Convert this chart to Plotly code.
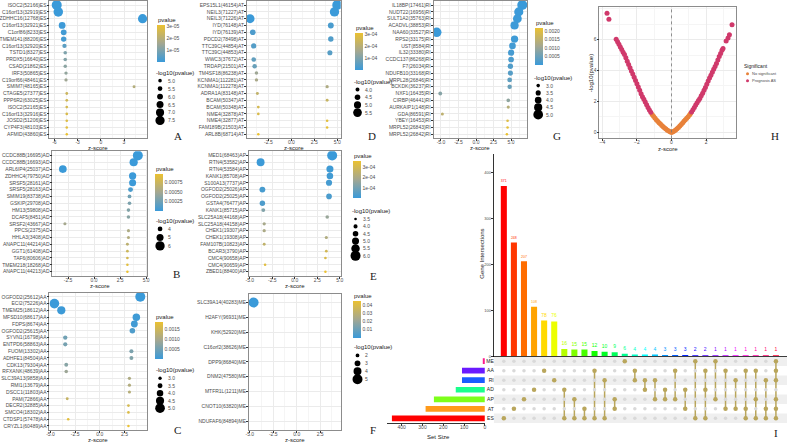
import colorsys
import math
import plotly.graph_objects as go

W, H = 790, 447

# ---------------- data ----------------
# A : ES
a_genes = ['ISOC2(52166)ES', 'C16orf13(32919)ES', 'ZDHHC16(12768)ES', 'C16orf13(32921)ES',
           'C1orf86(8233)ES', 'TMEM141(88206)ES', 'C16orf13(32920)ES', 'TSTD1(8327)ES',
           'PRDX5(16640)ES', 'CSAD(21862)ES', 'IRF3(50865)ES', 'C19orf66(48461)ES',
           'SMIM7(48165)ES', 'CTAGE5(27377)ES', 'PPP6R2(63025)ES', 'ISOC2(52165)ES',
           'C16orf13(32916)ES', 'JOSD2(51206)ES', 'CYP4F3(48103)ES', 'AFMID(43860)ES']
a_z = [-5.7, -5.5, 5.4, -5.0, -4.8, -4.8, -4.7, -4.6, -4.6, -4.6,
       -4.5, -4.5, 4.3, -4.4, -4.4, -4.4, -4.4, -4.4, -4.4, -4.4]
a_p = [1.5e-8, 2.5e-8, 3.5e-8, 4e-7, 1.2e-6, 1.6e-6, 5e-6, 1.0e-5, 1.1e-5, 1.2e-5,
       1.3e-5, 1.5e-5, 1.9e-5, 2.4e-5, 2.5e-5, 2.6e-5, 2.7e-5, 2.8e-5, 2.9e-5, 3.1e-5]
a_xticks = [-6, -3, 0, 3]
a_cb_vals = [1e-5, 2e-5, 3e-5]
a_cb_text = ['1e-05', '2e-05', '3e-05']
a_size_breaks = [5.0, 5.5, 6.0, 6.5, 7.0, 7.5]

# D : AT
d_genes = ['EPS15L1(46154)AT', 'NEIL3(71227)AT', 'NEIL3(71226)AT', 'IYD(76148)AT', 'IYD(76139)AT',
           'PDCD2(78498)AT', 'TTC39C(44854)AT', 'TTC39C(44853)AT', 'WWC3(37672)AT', 'TRDAP(21501)AT',
           'TM4SF18(86238)AT', 'KCNMA1(112281)AT', 'KCNMA1(112278)AT', 'ADRA1A(83148)AT', 'BCAM(50347)AT',
           'BCAM(50348)AT', 'NME4(32878)AT', 'NME4(32877)AT', 'FAM189B(21503)AT', 'ARL8B(68714)AT']
d_z = [5.0, 4.7, -4.5, 4.3, -4.2, 4.3, -4.1, 4.2, -4.1, -4.0,
       -3.8, -3.8, 3.9, -3.7, 3.9, -3.6, -3.6, 3.9, 3.9, -3.6]
d_p = [1.2e-6, 2.0e-6, 2.5e-6, 2.5e-5, 3.0e-5, 3.5e-5, 4e-5, 4.5e-5, 6e-5, 7e-5,
       1.5e-4, 1.7e-4, 1.8e-4, 2.2e-4, 2.3e-4, 2.6e-4, 2.7e-4, 2.9e-4, 3.0e-4, 3.1e-4]
d_xticks = [-2.5, 0.0, 2.5, 5.0]
d_cb_vals = [1e-4, 2e-4, 3e-4]
d_cb_text = ['1e-04', '2e-04', '3e-04']
d_size_breaks = [4.0, 4.5, 5.0, 5.5]

# G : RI
g_genes = ['IL18BP(17461)RI', 'NUDT22(16956)RI', 'SULT1A2(35763)RI', 'ACADVL(38853)RI', 'NAA60(33527)RI',
           'RPS2(33175)RI', 'UST(8584)RI', 'IL32(33380)RI', 'CCDC137(86268)RI', 'F7(26034)RI',
           'NDUFB10(33168)RI', 'MRPL28(26846)RI', 'BCKDK(36237)RI', 'NXF1(16435)RI', 'CIRBP(46441)RI',
           'AURKAIP1(148)RI', 'GDA(86591)RI', 'YBEY(16453)RI', 'MRPL52(26843)RI', 'MRPL52(26842)RI']
g_z = [6.6, 6.1, 5.9, 5.5, -5.6, 5.5, 5.2, 5.0, 5.0, 4.9,
       4.9, 4.8, 4.8, -5.1, 4.6, 4.6, -4.8, 4.5, 4.5, 4.4]
g_p = [8e-6, 1.5e-5, 2e-5, 3e-5, 1.2e-5, 6e-5, 1e-4, 1.3e-4, 2e-4, 2.5e-4,
       3e-4, 4e-4, 5e-4, 8e-4, 9e-4, 1.4e-3, 1.5e-3, 2.0e-3, 2.1e-3, 2.2e-3]
g_xticks = [-5.0, -2.5, 0.0, 2.5, 5.0]
g_cb_vals = [0.0005, 0.0010, 0.0015, 0.0020]
g_cb_text = ['0.0005', '0.0010', '0.0015', '0.0020']
g_size_breaks = [3.0, 3.5, 4.0, 4.5, 5.0]

# B : AD
b_genes = ['CCDC88B(16695)AD', 'CCDC88B(16693)AD', 'ARL6IP4(25037)AD', 'ZDHHC4(79750)AD', 'SRSF5(28161)AD',
           'SRSF5(28163)AD', 'SMIM19(83738)AD', 'GSKIP(29708)AD', 'HM13(59808)AD', 'DCAF5(8451)AD',
           'SRSF2(43667)AD', 'PPCS(2375)AD', 'HHLA3(3408)AD', 'ANAPC11(44214)AD', 'GGT1(61408)AD',
           'TAF6(80606)AD', 'TMEM218(18268)AD', 'ANAPC11(44213)AD']
b_z = [4.2, 3.8, -3.0, 3.7, 3.7, 3.5, 3.4, 3.4, 3.3, 3.3,
       -2.8, 3.3, 3.3, 3.2, 3.2, 3.2, 3.2, 3.2]
b_p = [5e-7, 3e-6, 5e-6, 8e-6, 1e-5, 8e-5, 2.5e-4, 3e-4, 3.3e-4, 3.6e-4,
       5e-4, 5.5e-4, 5.8e-4, 6.5e-4, 7.5e-4, 8e-4, 9e-4, 9.6e-4]
b_xticks = [-2.5, 0.0, 2.5, 5.0]
b_cb_vals = [0.00025, 0.00050, 0.00075]
b_cb_text = ['0.00025', '0.00050', '0.00075']
b_size_breaks = [4, 5, 6]

# E : AP
e_genes = ['MED1(68463)AP', 'RTN4(53582)AP', 'RTN4(53584)AP', 'KANK1(85708)AP', 'S100A13(7737)AP',
           'OGFOD2(25026)AP', 'OGFOD2(25025)AP', 'GSTA4(76477)AP', 'KANK1(85715)AP', 'SLC25A18(44168)AP',
           'SLC25A18(44158)AP', 'CHEK1(19307)AP', 'CHEK1(19308)AP', 'FAM107B(10823)AP', 'BCAR3(3790)AP',
           'CMC4(90658)AP', 'CMC4(90659)AP', 'ZBED1(88400)AP']
e_z = [4.15, -3.8, 3.9, 3.9, 3.8, -3.6, 3.8, -3.6, -3.5, 3.6,
       -3.4, -3.4, 3.5, -3.4, 3.5, 3.4, -3.3, 3.4]
e_p = [1e-6, 5e-6, 1e-5, 1.5e-5, 2e-5, 2.5e-5, 3e-5, 3.5e-5, 1.2e-4, 1.6e-4,
       1.9e-4, 2e-4, 2.1e-4, 2.5e-4, 2.9e-4, 3.1e-4, 3.3e-4, 3.55e-4]
e_xticks = [-5.0, -2.5, 0.0, 2.5, 5.0]
e_cb_vals = [1e-4, 2e-4, 3e-4]
e_cb_text = ['1e-04', '2e-04', '3e-04']
e_size_breaks = [3.5, 4.0, 4.5, 5.0, 5.5, 6.0]

# C : AA
c_genes = ['OGFOD2(25612)AA', 'ECI2(75226)AA', 'TMEM25(18612)AA', 'MFSD10(68617)AA', 'FDPS(8674)AA',
           'OGFOD2(25615)AA', 'SYVN1(16798)AA', 'ENTPD6(58863)AA', 'FUOM(13302)AA', 'ADHFE1(84504)AA',
           'CDK13(79304)AA', 'RFXANK(48639)AA', 'SLC39A13(9858)AA', 'RMI1(13679)AA', 'DSCC1(11803)AA',
           'PAM(72866)AA', 'DECR2(32885)AA', 'SMCO4(18302)AA', 'CTDSP1(57478)AA', 'CRYZL1(60489)AA']
c_z = [4.1, -4.6, -3.9, 3.7, 3.5, 3.3, -3.5, -3.5, 3.2, 3.2,
       -3.4, -3.4, 3.0, 3.0, 3.0, -3.3, 2.9, 2.9, -3.2, 2.9]
c_p = [8e-6, 1e-5, 3e-5, 5e-5, 8e-5, 2e-4, 5e-4, 5.5e-4, 6e-4, 6.5e-4,
       7e-4, 9e-4, 1.1e-3, 1.15e-3, 1.2e-3, 1.4e-3, 1.6e-3, 1.7e-3, 1.8e-3, 1.9e-3]
c_xticks = [-5.0, -2.5, 0.0, 2.5]
c_cb_vals = [0.0005, 0.0010, 0.0015]
c_cb_text = ['0.0005', '0.0010', '0.0015']
c_size_breaks = [3.0, 3.5, 4.0, 4.5, 5.0]

# F : ME
f_genes = ['SLC39A14(40283)ME', 'H2AFY(96931)ME', 'KHK(52920)ME', 'C16orf2(38626)ME', 'DPP9(86840)ME',
           'DNM2(47580)ME', 'MTFR1L(1211)ME', 'CNOT10(63820)ME', 'NDUFAF6(84894)ME']
f_z = [-4.6, None, None, None, None, None, None, None, None]
f_p = [1e-5, 0.004, 0.008, 0.012, 0.02, 0.025, 0.03, 0.04, 0.045]
f_xticks = [-5.0, -2.5, 0.0, 2.5]
f_cb_vals = [0.01, 0.02, 0.03, 0.04]
f_cb_text = ['0.01', '0.02', '0.03', '0.04']
f_size_breaks = [2, 3, 4, 5]

# H : volcano
vol_ns_z = [-1.12, -1.04, -0.96, -0.88, -0.80, -0.72, -0.64, -0.56, -0.48, -0.40, -0.32, -0.24, -0.16, -0.08,
            0.0, 0.08, 0.16, 0.24, 0.32, 0.40, 0.48, 0.56, 0.64, 0.72, 0.80, 0.88, 0.96, 1.04, 1.10]
vol_ns_y = [1.16, 1.04, 0.93, 0.83, 0.73, 0.63, 0.54, 0.45, 0.37, 0.29, 0.22, 0.15, 0.09, 0.04,
            0.0, 0.04, 0.09, 0.16, 0.24, 0.33, 0.42, 0.52, 0.62, 0.72, 0.82, 0.92, 1.02, 1.13, 1.22]
vol_sig_z = [-3.73, -3.62, -3.20, -3.12, -3.04, -2.96, -2.88, -2.80, -2.72, -2.64, -2.56, -2.48, -2.40,
             -2.32, -2.24, -2.16, -2.08, -2.00, -1.92, -1.84, -1.76, -1.68, -1.60, -1.52, -1.44, -1.36,
             -1.28, -1.20,
             1.16, 1.24, 1.32, 1.40, 1.48, 1.56, 1.64, 1.72, 1.80, 1.88, 1.96, 2.04, 2.12, 2.20, 2.28,
             2.36, 2.44, 2.52, 2.60, 2.68, 2.76, 2.84, 2.92, 2.98, 3.16, 3.27, 3.35, 3.50]
vol_sig_y = [7.70, 7.30, 6.02, 5.86, 5.69, 5.52, 5.35, 5.18, 5.03, 4.82, 4.60, 4.38, 4.17,
             3.97, 3.77, 3.57, 3.36, 3.14, 2.93, 2.72, 2.50, 2.31, 2.14, 1.97, 1.79, 1.62,
             1.45, 1.30,
             1.32, 1.47, 1.62, 1.77, 1.92, 2.06, 2.20, 2.37, 2.54, 2.72, 2.91, 3.12, 3.33, 3.52, 3.70,
             3.89, 4.08, 4.26, 4.45, 4.68, 4.90, 5.10, 5.30, 5.42, 5.90, 6.10, 6.30, 6.96]
vol_xticks = [-4, -2, 0, 2]
vol_yticks = [0, 2, 4, 6]

# I : upset
set_names = ['ME', 'AA', 'RI', 'AD', 'AP', 'AT', 'ES']
set_sizes = [10, 110, 110, 140, 245, 285, 447]
inter_sizes = [371, 248, 207, 108, 78, 76, 16, 15, 15, 12, 10, 9, 6, 4,
               4, 4, 3, 3, 3, 2, 2, 1, 1, 1, 1, 1, 1, 1]
inter_sets = [['ES'], ['AT'], ['AP'], ['AD'], ['AA'], ['RI'], ['AD', 'ES'], ['AP', 'ES'],
              ['AT', 'ES'], ['AA', 'ES'], ['RI', 'ES'], ['AP', 'AT'], ['ME'], ['AA', 'RI'],
              ['RI', 'AD'], ['RI', 'AP'], ['AD', 'AP'], ['AA', 'AP'], ['AD', 'AT'], ['ME', 'ES'],
              ['AA', 'AD', 'ES'], ['ME', 'AP'], ['AA', 'AT'], ['RI', 'AT'], ['AA', 'AT', 'ES'],
              ['AA', 'AP', 'ES'], ['RI', 'AT', 'ES'], ['ME', 'AA', 'RI', 'AP', 'AT', 'ES']]
set_ticks = [0, 100, 200, 300, 400]

# ---------------- styling helpers ----------------
FONT = 'Liberation Sans'
SERIF = 'Liberation Serif'
GRID = '#ebebeb'
MINOR = '#f5f5f5'
BORDER = '#8c8c8c'
TXT = '#4d4d4d'
SCALE = [[0, '#3a9ad9'], [0.5, '#a3a792'], [1, '#ebc131']]

fig = go.Figure()
ann, shapes, layout = [], [], {}


def aid(k):
    return '' if k == 1 else str(k)


def dx(x0, x1):
    return [x0 / W, x1 / W]


def dy(y0, y1):
    return [1 - y1 / H, 1 - y0 / H]


def txt(x, y, s, size=5, color=TXT, xanchor='left', family=FONT, angle=0):
    ann.append(dict(x=x / W, y=1 - y / H, xref='paper', yref='paper', text=s, showarrow=False,
                    xanchor=xanchor, yanchor='middle', textangle=angle, borderpad=0,
                    font=dict(size=size, color=color, family=family)))


def dot(cx, cy, r, color):
    shapes.append(dict(type='circle', xref='paper', yref='paper', xsizemode='pixel', ysizemode='pixel',
                       xanchor=cx / W, yanchor=1 - cy / H, x0=-r, x1=r, y0=-r, y1=r,
                       fillcolor=color, line=dict(width=0)))


def axis_style(**kw):
    base = dict(showgrid=True, gridcolor=GRID, gridwidth=0.8, zeroline=False, showline=True, mirror=True,
                linecolor=BORDER, linewidth=0.8, ticks='outside', ticklen=2, tickcolor='#333333',
                tickwidth=0.6, tickfont=dict(size=5, color=TXT, family=FONT))
    base.update(kw)
    return base


def dot_panel(k, genes, z, p, box, xr, xticks, fmt, minor, cb, cbv, cbt, lg, breaks, step, letter):
    x0, x1, y0, y1 = box
    n = len(genes)
    lp = [-math.log10(v) for v in p]
    lo, hi = min(lp), max(lp)
    size = [2.5 + 7.5 * (v - lo) / (hi - lo) for v in lp]
    fig.add_trace(go.Scatter(
        x=z, y=list(range(n)), mode='markers', xaxis='x' + aid(k), yaxis='y' + aid(k),
        marker=dict(size=size, color=p, colorscale=SCALE, cmin=min(p), cmax=max(p), line=dict(width=0),
                    opacity=1, showscale=True,
                    colorbar=dict(x=cb[0] / W, xanchor='left', y=1 - cb[1] / H, yanchor='top',
                                  len=37, lenmode='pixels', thickness=8, thicknessmode='pixels',
                                  tickvals=cbv, ticktext=cbt, ticks='', outlinewidth=0,
                                  xpad=0, ypad=0, tickfont=dict(size=5, color=TXT, family=FONT)))))
    layout['xaxis' + aid(k)] = axis_style(
        domain=dx(x0, x1), range=xr, anchor='y' + aid(k), tickvals=xticks,
        ticktext=[fmt.format(v) for v in xticks], ticklabelstandoff=-3,
        minor=dict(dtick=minor, tick0=0, showgrid=True, gridcolor=MINOR, gridwidth=0.5))
    layout['yaxis' + aid(k)] = axis_style(
        domain=dy(y0, y1), range=[n - 0.4, -0.6], anchor='x' + aid(k), tickvals=list(range(n)),
        ticktext=genes, ticklabelstandoff=-1)
    txt((x0 + x1) / 2, y1 + 10, 'z-score', size=6, color='#1a1a1a', xanchor='center')
    txt(cb[0], cb[1] - 5, 'pvalue', size=6, color='#1a1a1a')
    txt(lg[0], lg[1], '-log10(pvalue)', size=6, color='#1a1a1a')
    for i, b in enumerate(breaks):
        cy = lg[1] + 8 + i * step
        d = 2.5 + 7.5 * (b - lo) / (hi - lo)
        dot(lg[0] + 5, cy, max(d, 1.5) / 2, 'black')
        txt(lg[0] + 12, cy, str(b), size=5)
    txt(letter[1], letter[2], letter[0], size=11, color='#1a1a1a', xanchor='center', family=SERIF)


dot_panel(1, a_genes, a_z, a_p, (43, 142, 1, 139), [-6.64, 6.0], a_xticks, '{:g}', 1.5,
          (152, 25), a_cb_vals, a_cb_text, (150, 73), a_size_breaks, 8, ('A', 173, 137))
dot_panel(2, d_genes, d_z, d_p, (243, 338, 1, 139), [-4.84, 5.38], d_xticks, '{:.1f}', 1.25,
          (352, 33), d_cb_vals, d_cb_text, (350, 82), d_size_breaks, 7.7, ('D', 370, 137))
dot_panel(3, g_genes, g_z, g_p, (432, 527, 1, 139), [-6.06, 7.32], g_xticks, '{:.1f}', 1.25,
          (535, 28), g_cb_vals, g_cb_text, (533, 78), g_size_breaks, 7.3, ('G', 557, 137))
dot_panel(5, b_genes, b_z, b_p, (46, 142, 152, 277), [-4.0, 5.1], b_xticks, '{:.1f}', 1.25,
          (150, 175), b_cb_vals, b_cb_text, (150, 222), b_size_breaks, 8.5, ('B', 172, 275))
dot_panel(6, e_genes, e_z, e_p, (245, 338, 152, 277), [-5.1, 5.1], e_xticks, '{:.1f}', 1.25,
          (350, 162), e_cb_vals, e_cb_text, (348, 212), e_size_breaks, 7.4, ('E', 371, 277))
dot_panel(7, c_genes, c_z, c_p, (43, 142, 294, 432), [-5.1, 4.8], c_xticks, '{:.1f}', 1.25,
          (150, 323), c_cb_vals, c_cb_text, (150, 372), c_size_breaks, 7.5, ('C', 173, 432))
dot_panel(8, f_genes, f_z, f_p, (245, 338, 295, 432), [-5.1, 4.7], f_xticks, '{:.1f}', 1.25,
          (350, 302), f_cb_vals, f_cb_text, (350, 349), f_size_breaks, 8, ('F', 371, 432))

# ---------------- H volcano ----------------
fig.add_trace(go.Scatter(x=vol_ns_z, y=vol_ns_y, mode='markers', xaxis='x4', yaxis='y4',
                         marker=dict(size=5, color='#e8823a', line=dict(width=0))))
fig.add_trace(go.Scatter(x=vol_sig_z, y=vol_sig_y, mode='markers', xaxis='x4', yaxis='y4',
                         marker=dict(size=5, color='#d0396b', line=dict(width=0))))
layout['xaxis4'] = axis_style(domain=dx(600, 738), range=[-4.17, 3.71], anchor='y4', tickvals=vol_xticks,
                              ticklabelstandoff=-3,
                              minor=dict(dtick=1, tick0=0, showgrid=True, gridcolor=MINOR, gridwidth=0.5))
layout['yaxis4'] = axis_style(domain=dy(7, 139), range=[-0.38, 8.1], anchor='x4', tickvals=vol_yticks,
                              ticklabelstandoff=-1,
                              minor=dict(dtick=1, tick0=0, showgrid=True, gridcolor=MINOR, gridwidth=0.5))
shapes.append(dict(type='line', xref='x4', yref='y4', x0=0, x1=0, y0=-0.38, y1=8.1,
                   line=dict(color='#777777', width=0.8, dash='dot')))
txt(669, 150, 'z-score', size=6, color='#1a1a1a', xanchor='center')
txt(591, 74, '-log10(pvalue)', size=6, color='#1a1a1a', xanchor='center', angle=-90)
txt(745, 66, 'Significant', size=5, color='#1a1a1a')
dot(750, 74, 1.5, '#e8823a')
txt(754, 74, 'No significant', size=4)
dot(750, 81, 1.5, '#d0396b')
txt(754, 81, 'Prognosis AS', size=4)
txt(778, 137, 'H', size=11, color='#1a1a1a', xanchor='center', family=SERIF)

# ---------------- I upset ----------------
n_int = len(inter_sizes)
bar_colors = []
for i in range(n_int):
    r, g, b = colorsys.hsv_to_rgb(i / n_int, 1, 1)
    bar_colors.append('#%02x%02x%02x' % (int(r * 255), int(g * 255), int(b * 255)))
set_colors = ['#ff1a8c', '#6a1aff', '#1a5cff', '#1aff8c', '#7dff1a', '#ff9a1a', '#ff0000']

fig.add_trace(go.Bar(x=list(range(n_int)), y=inter_sizes, xaxis='x9', yaxis='y9', width=0.6,
                     marker=dict(color=bar_colors, line=dict(width=0)),
                     text=[str(v) for v in inter_sizes], textposition='outside', cliponaxis=False,
                     textfont=dict(size=5, color=bar_colors, family=FONT)))
layout['xaxis9'] = dict(domain=dx(493, 790), range=[-1.0, 28.1], anchor='y9', showticklabels=False,
                        showgrid=False, zeroline=False, showline=True, linecolor='black', linewidth=1.2,
                        ticks='')
layout['yaxis9'] = dict(domain=dy(155, 358), range=[0, 440], anchor='x9', tickvals=set_ticks,
                        showgrid=False, zeroline=False, showline=True, linecolor='#333333', linewidth=0.8,
                        ticks='outside', ticklen=2, tickcolor='#333333', tickwidth=0.6, ticklabelstandoff=-1,
                        tickfont=dict(size=4, color=TXT, family=FONT))
txt(481, 255, 'Gene Intersections', size=6, color='#1a1a1a', xanchor='center', angle=-90)

# matrix
for r in range(0, len(set_names), 2):
    shapes.append(dict(type='rect', xref='x10', yref='y10', x0=-1.0, x1=28.1, y0=r - 0.5, y1=r + 0.5,
                       fillcolor='#efefef', line=dict(width=0), layer='below'))
gx, gy, ax_, ay_ = [], [], [], []
for i, members in enumerate(inter_sets):
    rows = [set_names.index(s) for s in members]
    for r in range(len(set_names)):
        if r in rows:
            ax_.append(i)
            ay_.append(r)
        else:
            gx.append(i)
            gy.append(r)
    if len(rows) > 1:
        fig.add_trace(go.Scatter(x=[i, i], y=[min(rows), max(rows)], mode='lines', xaxis='x10', yaxis='y10',
                                 line=dict(color='#b9a65c', width=1.5)))
fig.add_trace(go.Scatter(x=gx, y=gy, mode='markers', xaxis='x10', yaxis='y10',
                         marker=dict(size=3.5, color='#d9d9d9', line=dict(width=0))))
fig.add_trace(go.Scatter(x=ax_, y=ay_, mode='markers', xaxis='x10', yaxis='y10',
                         marker=dict(size=4.5, color='#b9a65c', line=dict(width=0))))
layout['xaxis10'] = dict(domain=dx(493, 790), range=[-1.0, 28.1], anchor='y10', visible=False)
layout['yaxis10'] = dict(domain=dy(358, 425), range=[6.5, -0.5], anchor='x10', tickvals=list(range(7)),
                         ticktext=set_names, showgrid=False, zeroline=False, showline=False, ticks='',
                         ticklabelstandoff=-1, tickfont=dict(size=5, color='#1a1a1a', family=FONT))

# set sizes
fig.add_trace(go.Bar(x=set_sizes, y=list(range(len(set_names))), orientation='h', xaxis='x11', yaxis='y11',
                     width=0.6, marker=dict(color=set_colors, line=dict(width=0))))
layout['xaxis11'] = dict(domain=dx(385, 484), range=[470, 0], anchor='y11', tickvals=set_ticks,
                         showgrid=False, zeroline=False, showline=True, linecolor='#333333', linewidth=0.8,
                         ticks='outside', ticklen=2, tickcolor='#333333', tickwidth=0.6, ticklabelstandoff=-3,
                         tickfont=dict(size=5, color=TXT, family=FONT))
layout['yaxis11'] = dict(domain=dy(358, 425), range=[6.5, -0.5], anchor='x11', visible=False)
txt(437, 439, 'Set Size', size=6, color='#1a1a1a', xanchor='center')
txt(779, 435, 'I', size=11, color='#1a1a1a', xanchor='center', family=SERIF)

fig.update_layout(width=W, height=H, margin=dict(l=0, r=0, t=0, b=0), paper_bgcolor='white',
                  plot_bgcolor='white', showlegend=False, annotations=ann, shapes=shapes,
                  font=dict(family=FONT, size=5), **layout)

fig.write_html('out.html', config={'displayModeBar': False},
               post_script="document.body.style.margin='0';")
